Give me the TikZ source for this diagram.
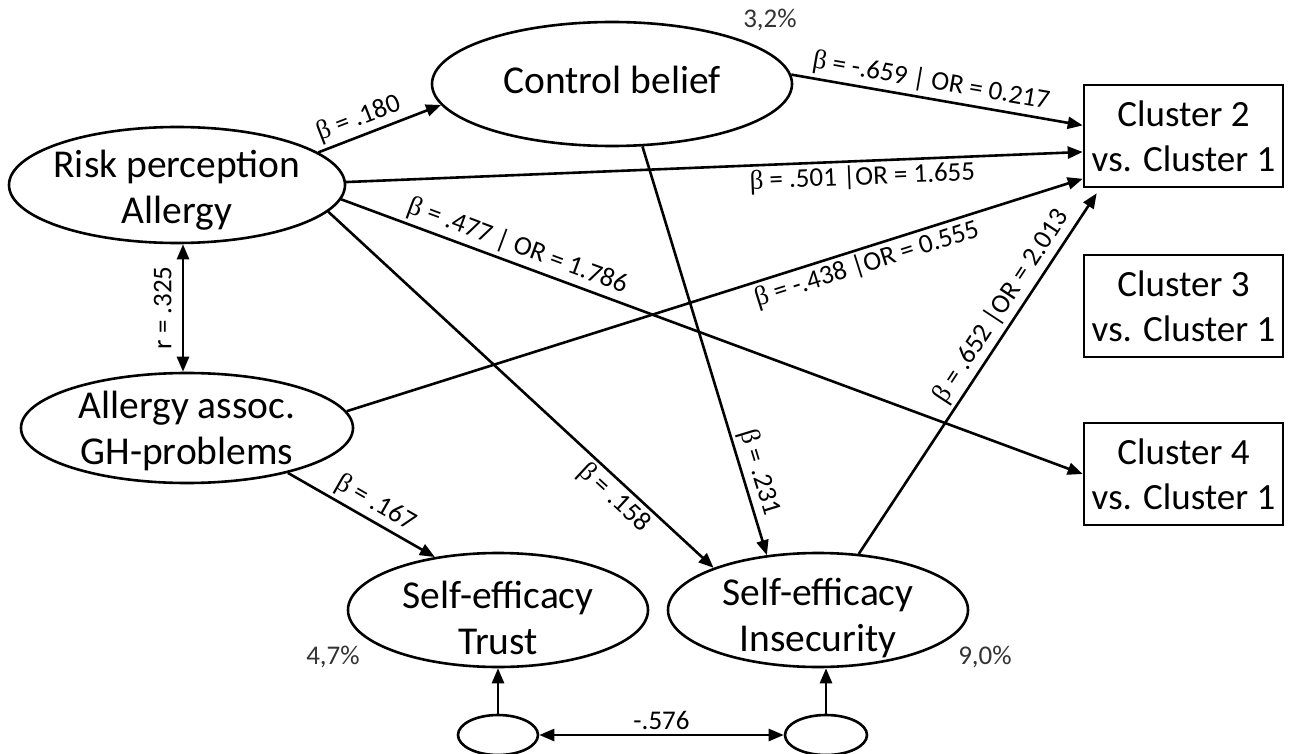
\documentclass[tikz,border=0pt]{standalone}
\usepackage{fontspec}
\setmainfont{Carlito}
\newfontfamily\grk{Liberation Serif}
\usetikzlibrary{shapes.geometric,arrows.meta,calc}
\newcommand{\bt}{{\grk β}}
\begin{document}
\begin{tikzpicture}[x=1pt,y=-1pt,
  ell/.style={draw, ellipse, line width=2.6pt, inner sep=0pt},
  box/.style={draw, rectangle, line width=2.6pt, minimum width=199pt, minimum height=102pt, inner sep=0pt, align=center, font=\fontsize{37}{45}\selectfont},
  big/.style={font=\fontsize{39.5}{46}\selectfont, align=center, inner sep=0pt},
  lab/.style={font=\fontsize{27}{31}\selectfont, inner sep=3pt},
  pct/.style={font=\fontsize{27}{31}\selectfont, text=black!80, inner sep=0pt},
  conn/.style={line width=2.6pt, -{Triangle[length=15pt,width=12pt]}},
  dbl/.style={line width=2.6pt, {Triangle[length=15pt,width=12pt]}-{Triangle[length=15pt,width=12pt]}},
]
\useasboundingbox (0,0) rectangle (1290,754);

% latent variables
\node[ell, minimum width=336pt, minimum height=116pt] (risk) at (177,185) {};
\node[big] (riskT) at ([yshift=-5pt]risk) {Risk perception\\Allergy};
\node[ell, minimum width=332pt, minimum height=110pt] (assoc) at (187,428) {};
\node[big] (assocT) at ([yshift=-3pt]assoc) {Allergy assoc.\\GH-problems};
\node[ell, minimum width=360pt, minimum height=124pt] (ctrl) at (612,84) {};
\node[big] (ctrlT) at ([yshift=4pt]ctrl) {Control belief};
\node[ell, minimum width=300pt, minimum height=114pt] (trust) at (498,610) {};
\node[big] (trustT) at ([yshift=-8pt]trust) {Self-efficacy\\Trust};
\node[ell, minimum width=300pt, minimum height=114pt] (insec) at (818,610) {};
\node[big] (insecT) at ([yshift=-8pt]insec) {Self-efficacy\\Insecurity};
\node[ell, minimum width=80pt, minimum height=40pt] (e1) at (498,735) {};
\node[ell, minimum width=82pt, minimum height=40pt] (e2) at (826,735) {};

% outcomes
\node[box] (c2) at (1183.5,136) {Cluster 2\\vs. Cluster 1};
\node[box] (c3) at (1183.5,306) {Cluster 3\\vs. Cluster 1};
\node[box] (c4) at (1183.5,474) {Cluster 4\\vs. Cluster 1};
\coordinate (c2in) at ($(c2.south west)+(14,5)$);

% explained variance
\node[pct] (p1) at (770,20) {3,2\%};
\node[pct] (p2) at (333,657) {4,7\%};
\node[pct] (p3) at (985,657) {9,0\%};

% paths
\draw[conn] (risk.13) -- node[lab, sloped, above, pos=0.38] (l1) {\bt{} = .180} (ctrl.187);
\draw[conn] (risk.1) -- node[lab, sloped, below, pos=0.70] (l2) {\bt{} = .501 |OR = 1.655} (c2.189);
\draw[conn] (ctrl.3) -- node[lab, sloped, above, pos=0.47] (l3) {\bt{} = -.659 | OR = 0.217} (c2.174);
\draw[conn] (assoc.6) -- node[lab, sloped, below, pos=0.70] (l4) {\bt{} = -.438 |OR = 0.555} (c2.203);
\draw[conn] (insec.54) -- node[lab, sloped, above, pos=0.66] (l5) {\bt{} = .652 |OR = 2.013} (c2in);
\draw[conn] (risk.355) -- node[lab, sloped, above, pos=0.23] (l6) {\bt{} = .477 | OR = 1.786} (c4.west);
\draw[conn] (risk.350) -- node[lab, sloped, below, pos=0.77] (l7) {\bt{} = .158} (insec.158);
\draw[conn] (ctrl.296) -- node[lab, sloped, above, pos=0.81] (l8) {\bt{} = .231} (insec.133);
\draw[conn] (assoc.336) -- node[lab, sloped, above, pos=0.54] (l9) {\bt{} = .167} (trust.140);
\draw[dbl] ([xshift=6pt]risk.south) -- node[lab, midway, rotate=90, anchor=south, inner sep=10pt] (lr) {r = .325} ([xshift=-4pt]assoc.north);
\draw[conn] (e1.north) -- (trust.south);
\draw[conn] (e2.north) -- (e2.north |- insec.south);
\draw[dbl] (e1.east) -- node[lab, above, inner sep=4pt] (l576) {-.576} (e2.west);
\end{tikzpicture}
\end{document}
